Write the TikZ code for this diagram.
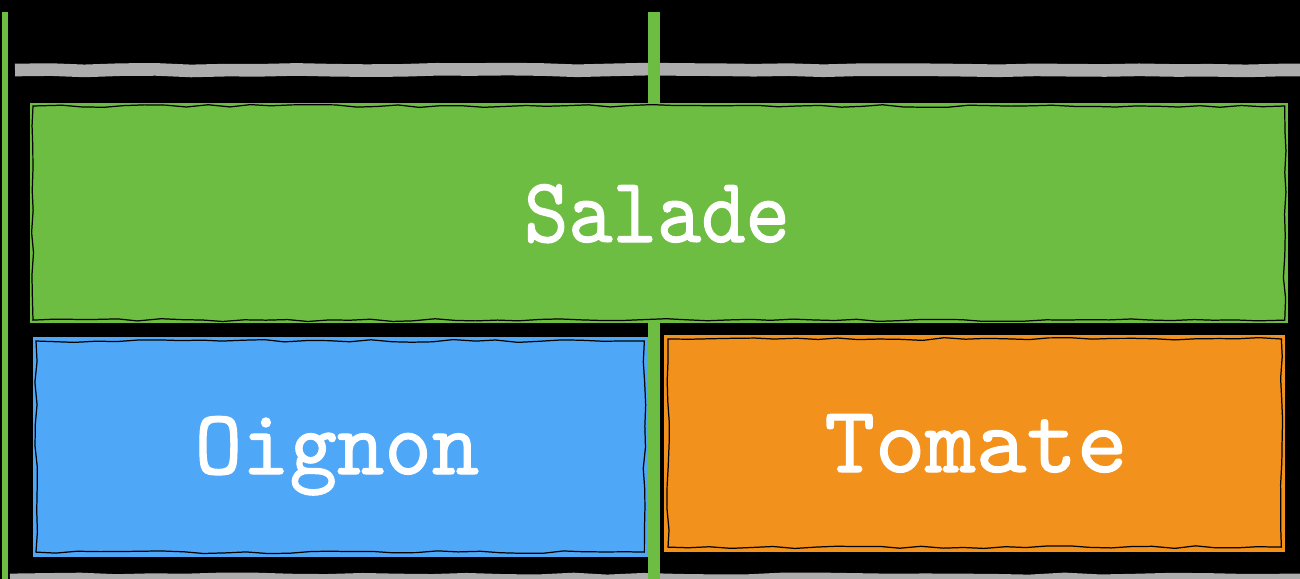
\documentclass[tikz,border=0pt]{standalone}
\usepackage{fontspec}
\usetikzlibrary{decorations.pathmorphing}
\newfontfamily\typew{lmmono10-regular.otf}[FakeBold=1.2]
\definecolor{bggreen}{HTML}{6DBD42}
\definecolor{bgblue}{HTML}{4FA7F8}
\definecolor{bgorange}{HTML}{F2911B}
\definecolor{bggray}{HTML}{ADADAD}
\tikzset{
  tile/.style={anchor=north west, inner sep=0pt, outer sep=0pt, text=white,
    font=\typew\fontsize{24}{28}\selectfont},
  rough/.style={draw=black, line width=0.35pt, decorate,
    decoration={random steps, segment length=6pt, amplitude=0.4pt}},
  rail/.style={line width=3.6pt, draw=bggray, decorate,
    decoration={random steps, segment length=10pt, amplitude=0.3pt}},
  post/.style={draw=bggreen}
}
\begin{document}
\begin{tikzpicture}[x=0.01cm,y=-0.01cm]
\useasboundingbox (0,0) rectangle (1300,579);
\fill[black] (0,0) rectangle (1300,579);
% gray rails
\coordinate (r1a) at (15,70);
\coordinate (r1b) at (1300,70);
\coordinate (r2a) at (10,578);
\coordinate (r2b) at (1300,578);
\draw[rail] (r1a) -- (r1b);
\draw[rail, line width=2.5pt] (r2a) -- (r2b);
% green posts
\coordinate (p1a) at (5,12);
\coordinate (p1b) at (5,579);
\coordinate (p2a) at (654,12);
\coordinate (p2b) at (654,579);
\draw[post, line width=1.6pt] (p1a) -- (p1b);
\draw[post, line width=3.6pt] (p2a) -- (p2b);
% tiles
\node[tile, fill=bggreen, minimum width=12.57cm, minimum height=2.2cm] (salade) at (30,103) {};
\node[tile, fill=bgblue, minimum width=6.15cm, minimum height=2.2cm] (oignon) at (33,337) {};
\node[tile, fill=bgorange, minimum width=6.21cm, minimum height=2.17cm] (tomate) at (664,335) {};
\draw[rough] (salade.north west) ++(3,3) rectangle ([shift={(-3,-3)}]salade.south east);
\draw[rough] (oignon.north west) ++(3,4) rectangle ([shift={(-4,-5)}]oignon.south east);
\draw[rough] (tomate.north west) ++(4,4) rectangle ([shift={(-4,-5)}]tomate.south east);
% labels
\node[tile, anchor=base] (tsalade) at (657,242) {\scalebox{1}[1.1]{Salade}};
\node[tile, anchor=base] (toignon) at (337,474) {\scalebox{1.07}[1.1]{Oignon}};
\node[tile, anchor=base] (ttomate) at (976,472) {\scalebox{1.14}[1.12]{Tomate}};
\end{tikzpicture}
\end{document}
